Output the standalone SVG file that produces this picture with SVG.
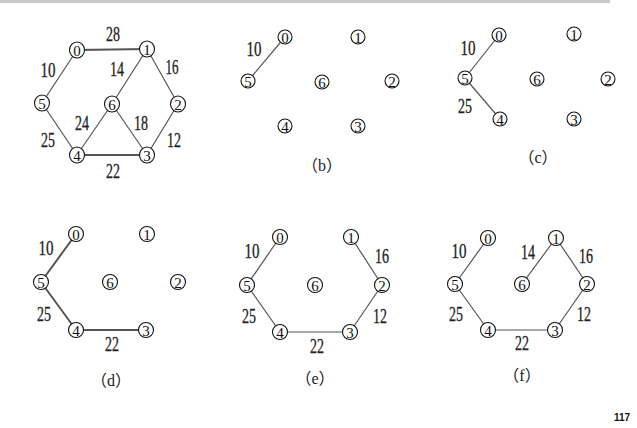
<svg xmlns="http://www.w3.org/2000/svg" width="637" height="428" viewBox="0 0 637 428">
<style>
.e{stroke:#555;stroke-width:1.2;fill:none}
.ek{stroke:#555;stroke-width:2;fill:none}
.n ellipse{fill:#fff;stroke:#111;stroke-width:1.1}
.n text{font-family:'Liberation Serif','Times New Roman',serif;font-size:15px;text-anchor:middle;fill:#111}
.w{font-family:'Liberation Serif','Times New Roman',serif;font-size:20px;text-anchor:middle;fill:#222;stroke:#222;stroke-width:0.3}
.cap{font-family:'Liberation Serif','Noto Sans CJK SC',serif;font-size:16px;text-anchor:middle;fill:#222}
</style>
<rect x="0" y="0" width="610" height="3" fill="#c8c8c8"/>
<g id="edges">
<line class="ek" x1="77" y1="50" x2="147" y2="49"/>
<line class="e" x1="77" y1="50" x2="42" y2="103"/>
<line class="e" x1="147" y1="49" x2="112" y2="104"/>
<line class="e" x1="147" y1="49" x2="178" y2="104"/>
<line class="e" x1="42" y1="103" x2="77" y2="155"/>
<line class="e" x1="112" y1="104" x2="77" y2="155"/>
<line class="e" x1="112" y1="104" x2="147" y2="155"/>
<line class="e" x1="178" y1="104" x2="147" y2="155"/>
<line class="ek" x1="77" y1="155" x2="147" y2="155"/>
<line class="e" x1="285" y1="37" x2="248" y2="81"/>
<line class="e" x1="499" y1="35" x2="465" y2="78"/>
<line class="e" x1="465" y1="78" x2="500" y2="119"/>
<line class="ek" x1="76" y1="234" x2="41" y2="282"/>
<line class="ek" x1="41" y1="282" x2="76" y2="330"/>
<line class="ek" x1="76" y1="330" x2="146" y2="330"/>
<line class="e" x1="280" y1="237" x2="247" y2="285"/>
<line class="e" x1="247" y1="285" x2="280" y2="332"/>
<line class="e" x1="280" y1="332" x2="350" y2="332"/>
<line class="e" x1="350" y1="332" x2="382" y2="285"/>
<line class="e" x1="382" y1="285" x2="351" y2="237"/>
<line class="e" x1="488" y1="238" x2="455" y2="284"/>
<line class="e" x1="455" y1="284" x2="488" y2="330"/>
<line class="e" x1="488" y1="330" x2="555" y2="330"/>
<line class="e" x1="555" y1="330" x2="587" y2="284"/>
<line class="e" x1="587" y1="284" x2="556" y2="238"/>
<line class="e" x1="556" y1="238" x2="522" y2="284"/>
</g>
<g id="a0" class="n"><ellipse cx="77" cy="50" rx="7.5" ry="8"/><text x="77" y="55.5">0</text></g>
<g id="a1" class="n"><ellipse cx="147" cy="49" rx="7.5" ry="8"/><text x="147" y="54.5">1</text></g>
<g id="a5" class="n"><ellipse cx="42" cy="103" rx="7.5" ry="8"/><text x="42" y="108.5">5</text></g>
<g id="a6" class="n"><ellipse cx="112" cy="104" rx="7.5" ry="8"/><text x="112" y="109.5">6</text></g>
<g id="a2" class="n"><ellipse cx="178" cy="104" rx="7.5" ry="8"/><text x="178" y="109.5">2</text></g>
<g id="a4" class="n"><ellipse cx="77" cy="155" rx="7.5" ry="8"/><text x="77" y="160.5">4</text></g>
<g id="a3" class="n"><ellipse cx="147" cy="155" rx="7.5" ry="8"/><text x="147" y="160.5">3</text></g>
<g id="alabels">
<text class="w" x="113" y="41" textLength="14" lengthAdjust="spacingAndGlyphs">28</text>
<text class="w" x="48" y="77" textLength="15" lengthAdjust="spacingAndGlyphs">10</text>
<text class="w" x="117" y="76" textLength="14" lengthAdjust="spacingAndGlyphs">14</text>
<text class="w" x="172" y="74" textLength="13" lengthAdjust="spacingAndGlyphs">16</text>
<text class="w" x="82" y="130" textLength="14" lengthAdjust="spacingAndGlyphs">24</text>
<text class="w" x="141" y="130" textLength="14" lengthAdjust="spacingAndGlyphs">18</text>
<text class="w" x="48" y="147" textLength="14" lengthAdjust="spacingAndGlyphs">25</text>
<text class="w" x="174" y="147" textLength="14" lengthAdjust="spacingAndGlyphs">12</text>
<text class="w" x="113" y="178" textLength="14" lengthAdjust="spacingAndGlyphs">22</text>
</g>
<g id="b0" class="n"><ellipse cx="285" cy="37" rx="7" ry="7"/><text x="285" y="42.5">0</text></g>
<g id="b1" class="n"><ellipse cx="358" cy="37" rx="7" ry="7"/><text x="358" y="42.5">1</text></g>
<g id="b5" class="n"><ellipse cx="248" cy="81" rx="7" ry="7"/><text x="248" y="86.5">5</text></g>
<g id="b6" class="n"><ellipse cx="322" cy="82" rx="7" ry="7"/><text x="322" y="87.5">6</text></g>
<g id="b2" class="n"><ellipse cx="392" cy="81" rx="7" ry="7"/><text x="392" y="86.5">2</text></g>
<g id="b4" class="n"><ellipse cx="285" cy="126" rx="7" ry="7"/><text x="285" y="131.5">4</text></g>
<g id="b3" class="n"><ellipse cx="358" cy="126" rx="7" ry="7"/><text x="358" y="131.5">3</text></g>
<g id="blabels">
<text class="w" x="254" y="56" textLength="15" lengthAdjust="spacingAndGlyphs">10</text>
<text class="cap" x="322" y="171">（b）</text>
</g>
<g id="c0" class="n"><ellipse cx="499" cy="35" rx="7" ry="7"/><text x="499" y="40.5">0</text></g>
<g id="c1" class="n"><ellipse cx="574" cy="34" rx="7" ry="7"/><text x="574" y="39.5">1</text></g>
<g id="c5" class="n"><ellipse cx="465" cy="78" rx="7" ry="7"/><text x="465" y="83.5">5</text></g>
<g id="c6" class="n"><ellipse cx="537" cy="79" rx="7" ry="7"/><text x="537" y="84.5">6</text></g>
<g id="c2" class="n"><ellipse cx="608" cy="79" rx="7" ry="7"/><text x="608" y="84.5">2</text></g>
<g id="c4" class="n"><ellipse cx="500" cy="119" rx="7" ry="7"/><text x="500" y="124.5">4</text></g>
<g id="c3" class="n"><ellipse cx="574" cy="119" rx="7" ry="7"/><text x="574" y="124.5">3</text></g>
<g id="clabels">
<text class="w" x="468" y="55" textLength="15" lengthAdjust="spacingAndGlyphs">10</text>
<text class="w" x="465" y="113" textLength="14" lengthAdjust="spacingAndGlyphs">25</text>
<text class="cap" x="538" y="163">（c）</text>
</g>
<g id="d0" class="n"><ellipse cx="76" cy="234" rx="7.5" ry="7.5"/><text x="76" y="239.5">0</text></g>
<g id="d1" class="n"><ellipse cx="147" cy="234" rx="7.5" ry="7.5"/><text x="147" y="239.5">1</text></g>
<g id="d5" class="n"><ellipse cx="41" cy="282" rx="7.5" ry="7.5"/><text x="41" y="287.5">5</text></g>
<g id="d6" class="n"><ellipse cx="110" cy="282" rx="7.5" ry="7.5"/><text x="110" y="287.5">6</text></g>
<g id="d2" class="n"><ellipse cx="178" cy="282" rx="7.5" ry="7.5"/><text x="178" y="287.5">2</text></g>
<g id="d4" class="n"><ellipse cx="76" cy="330" rx="7.5" ry="7.5"/><text x="76" y="335.5">4</text></g>
<g id="d3" class="n"><ellipse cx="146" cy="330" rx="7.5" ry="7.5"/><text x="146" y="335.5">3</text></g>
<g id="dlabels">
<text class="w" x="46" y="255" textLength="15" lengthAdjust="spacingAndGlyphs">10</text>
<text class="w" x="44" y="321" textLength="14" lengthAdjust="spacingAndGlyphs">25</text>
<text class="w" x="112" y="351" textLength="14" lengthAdjust="spacingAndGlyphs">22</text>
<text class="cap" x="111" y="386">（d）</text>
</g>
<g id="e0" class="n"><ellipse cx="280" cy="237" rx="7.5" ry="7.5"/><text x="280" y="242.5">0</text></g>
<g id="e1" class="n"><ellipse cx="351" cy="237" rx="7.5" ry="7.5"/><text x="351" y="242.5">1</text></g>
<g id="e5" class="n"><ellipse cx="247" cy="285" rx="7.5" ry="7.5"/><text x="247" y="290.5">5</text></g>
<g id="e6" class="n"><ellipse cx="315" cy="285" rx="7.5" ry="7.5"/><text x="315" y="290.5">6</text></g>
<g id="e2" class="n"><ellipse cx="382" cy="285" rx="7.5" ry="7.5"/><text x="382" y="290.5">2</text></g>
<g id="e4" class="n"><ellipse cx="280" cy="332" rx="7.5" ry="7.5"/><text x="280" y="337.5">4</text></g>
<g id="e3" class="n"><ellipse cx="350" cy="332" rx="7.5" ry="7.5"/><text x="350" y="337.5">3</text></g>
<g id="elabels">
<text class="w" x="252" y="258" textLength="15" lengthAdjust="spacingAndGlyphs">10</text>
<text class="w" x="382" y="263" textLength="14" lengthAdjust="spacingAndGlyphs">16</text>
<text class="w" x="249" y="323" textLength="14" lengthAdjust="spacingAndGlyphs">25</text>
<text class="w" x="380" y="323" textLength="14" lengthAdjust="spacingAndGlyphs">12</text>
<text class="w" x="317" y="353" textLength="14" lengthAdjust="spacingAndGlyphs">22</text>
<text class="cap" x="315" y="384">（e）</text>
</g>
<g id="f0" class="n"><ellipse cx="488" cy="238" rx="7.5" ry="7.5"/><text x="488" y="243.5">0</text></g>
<g id="f1" class="n"><ellipse cx="556" cy="238" rx="7.5" ry="7.5"/><text x="556" y="243.5">1</text></g>
<g id="f5" class="n"><ellipse cx="455" cy="284" rx="7.5" ry="7.5"/><text x="455" y="289.5">5</text></g>
<g id="f6" class="n"><ellipse cx="522" cy="284" rx="7.5" ry="7.5"/><text x="522" y="289.5">6</text></g>
<g id="f2" class="n"><ellipse cx="587" cy="284" rx="7.5" ry="7.5"/><text x="587" y="289.5">2</text></g>
<g id="f4" class="n"><ellipse cx="488" cy="330" rx="7.5" ry="7.5"/><text x="488" y="335.5">4</text></g>
<g id="f3" class="n"><ellipse cx="555" cy="330" rx="7.5" ry="7.5"/><text x="555" y="335.5">3</text></g>
<g id="flabels">
<text class="w" x="459" y="258" textLength="15" lengthAdjust="spacingAndGlyphs">10</text>
<text class="w" x="528" y="259" textLength="14" lengthAdjust="spacingAndGlyphs">14</text>
<text class="w" x="586" y="263" textLength="14" lengthAdjust="spacingAndGlyphs">16</text>
<text class="w" x="456" y="321" textLength="14" lengthAdjust="spacingAndGlyphs">25</text>
<text class="w" x="584" y="321" textLength="14" lengthAdjust="spacingAndGlyphs">12</text>
<text class="w" x="522" y="350" textLength="14" lengthAdjust="spacingAndGlyphs">22</text>
<text class="cap" x="522" y="381">（f）</text>
</g>
<text x="622" y="421" font-family="'Liberation Sans', Arial, sans-serif" font-size="10" font-weight="bold" text-anchor="middle" fill="#111">117</text>
</svg>
